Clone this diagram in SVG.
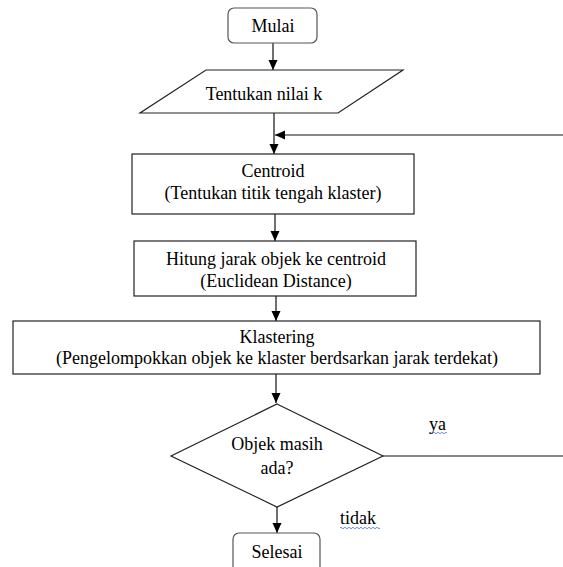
<svg xmlns="http://www.w3.org/2000/svg" width="563" height="567" viewBox="0 0 563 567">
<style>
  text { font-family: 'Liberation Serif', 'DejaVu Serif', Tinos, 'Times New Roman', Times, serif; font-size: 18px; fill: #000; text-anchor: middle; }
  .shape { fill: #fff; stroke: #222; stroke-width: 1.2; }
  .term { fill: #fff; stroke: #555; stroke-width: 1.2; }
  .conn { fill: none; stroke: #111; stroke-width: 1.2; }
  .squig { fill: none; stroke: #4a6fd0; stroke-width: 0.8; }
  .lbl { text-anchor: start; }
</style>
<defs>
  <marker id="arrow" markerUnits="userSpaceOnUse" markerWidth="10" markerHeight="10" refX="10" refY="5" orient="auto">
    <path d="M0,0.5 L10,5 L0,9.5 Z" fill="#000"/>
  </marker>
</defs>
<rect width="563" height="567" fill="#fff"/>
<g id="connectors">
  <line class="conn" x1="273" y1="43" x2="273" y2="70" marker-end="url(#arrow)"/>
  <line class="conn" x1="274" y1="113" x2="274" y2="154" marker-end="url(#arrow)"/>
  <line class="conn" x1="563" y1="135" x2="275" y2="135" marker-end="url(#arrow)"/>
  <line class="conn" x1="275" y1="214" x2="275" y2="241" marker-end="url(#arrow)"/>
  <line class="conn" x1="276" y1="296" x2="276" y2="321" marker-end="url(#arrow)"/>
  <line class="conn" x1="276" y1="374" x2="276" y2="403" marker-end="url(#arrow)"/>
  <line class="conn" x1="383" y1="456" x2="563" y2="456"/>
  <line class="conn" x1="277" y1="507" x2="277" y2="533" marker-end="url(#arrow)"/>
</g>
<g id="mulai">
  <rect class="term" x="228" y="8" width="89" height="35" rx="6"/>
  <text x="273" y="32" font-family="Liberation Serif, serif">Mulai</text>
</g>
<g id="input-k">
  <polygon class="shape" points="206,70 403,70 338,113 140,113"/>
  <text x="264" y="100">Tentukan nilai k</text>
</g>
<g id="centroid">
  <rect class="shape" x="132" y="154" width="282" height="60"/>
  <text x="273" y="177">Centroid</text>
  <text x="273" y="199">(Tentukan titik tengah klaster)</text>
</g>
<g id="hitung">
  <rect class="shape" x="134" y="241" width="282" height="55"/>
  <text x="276" y="265">Hitung jarak objek ke centroid</text>
  <text x="276" y="287">(Euclidean Distance)</text>
</g>
<g id="klastering">
  <rect class="shape" x="13" y="321" width="527" height="53"/>
  <text x="277" y="343">Klastering</text>
  <text x="277" y="364">(Pengelompokkan objek ke klaster berdsarkan jarak terdekat)</text>
</g>
<g id="decision">
  <polygon class="shape" points="277,404 383,456 277,507 171,456"/>
  <text x="277" y="450">Objek masih</text>
  <text x="277" y="474">ada?</text>
</g>
<g id="label-ya">
  <text class="lbl" x="429" y="430">ya</text>
  <path class="squig" d="M429,433 q1,-1.5 2,0 t2,0 t2,0 t2,0 t2,0 t2,0 t2,0 t2,0 t2,0"/>
</g>
<g id="label-tidak">
  <text class="lbl" x="340" y="524">tidak</text>
  <path class="squig" d="M340,528 q1,-1.5 2,0 t2,0 t2,0 t2,0 t2,0 t2,0 t2,0 t2,0 t2,0 t2,0 t2,0 t2,0 t2,0 t2,0 t2,0 t2,0 t2,0 t2,0 t2,0 t2,0"/>
</g>
<g id="selesai">
  <rect class="term" x="233" y="533" width="87" height="40" rx="6"/>
  <text x="277" y="558">Selesai</text>
</g>
</svg>
